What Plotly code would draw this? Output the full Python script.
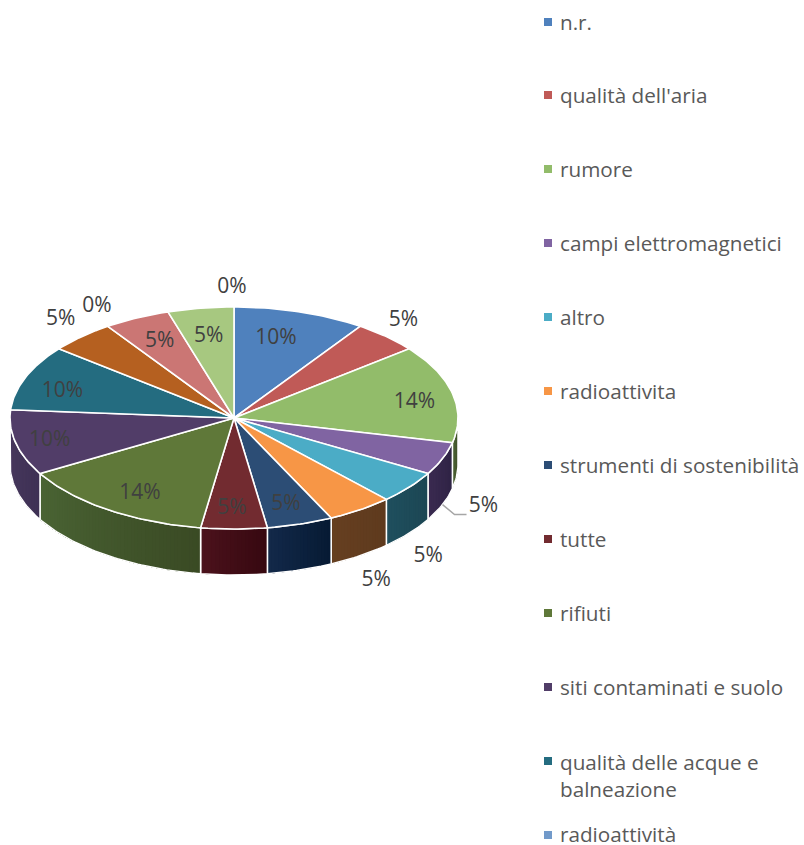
import math
import plotly.graph_objects as go

# ---------- data ----------
categories = ["n.r.", "qualità dell'aria", "rumore", "campi elettromagnetici", "altro",
              "radioattivita", "strumenti di sostenibilità", "tutte", "rifiuti",
              "siti contaminati e suolo", "qualità delle acque e<br>balneazione", "",
              "radioattività", "", "", ""]
counts = [2, 1, 3, 1, 1, 1, 1, 1, 3, 2, 2, 1, 0, 1, 1, 0]

# ---------- styles ----------
top_colors = ["#4F81BD", "#C05A57", "#92BC6A", "#8064A2", "#4BACC6", "#F79646", "#2C4D75", "#722B30",
              "#5F7839", "#513D68", "#246C80", "#B56020", "#729ACA", "#CB7674", "#A7C880", "#D0D0D0"]
side_left = ["#000000", "#000000", "#4C6234", "#3A2A50", "#1F4F5E", "#663F20", "#13294A", "#4C121C",
             "#4A6434", "#4A3A60", "#000000", "#000000", "#000000", "#000000", "#000000", "#000000"]
side_right = ["#000000", "#000000", "#3C4A26", "#2E2344", "#1C4653", "#5E3A1E", "#061A33", "#360810",
              "#3A4A24", "#3E3154", "#000000", "#000000", "#000000", "#000000", "#000000", "#000000"]
label_dx = [-24, 17, -38, 41, 19, 16, -14, -2, 32, 34, 37, -21, -11, 23, 8, -2]
label_dy = [27, -16, 9, 48, 70, 71, -19, -20, -16, -2, 14, -17, -20, 24, 29, -19]

CX, CY, RX, RY, DEPTH = 234, 418, 224, 111, 46
LEG_SQ_X, LEG_TX_X = 548, 558
leg_y = [22, 95, 169, 243, 317, 391, 465, 539, 613, 687, 761, 834]
TEXT = "#404040"
LEG_TEXT = "#595959"
FONT = "Open Sans"


def pt(a, depth=0.0):
    r = math.radians(a)
    return CX + RX * math.sin(r), CY - RY * math.cos(r) + depth


def arc(a0, a1):
    n = max(2, int(abs(a1 - a0)) + 1)
    return [a0 + (a1 - a0) * i / n for i in range(n + 1)]


def mix(c1, c2, t):
    a = [int(c1[i:i + 2], 16) for i in (1, 3, 5)]
    b = [int(c2[i:i + 2], 16) for i in (1, 3, 5)]
    return "rgb(%d,%d,%d)" % tuple(round(p + (q - p) * t) for p, q in zip(a, b))


def wall(angles):
    xs = [pt(a)[0] for a in angles] + [pt(a, DEPTH)[0] for a in reversed(angles)]
    ys = [pt(a)[1] for a in angles] + [pt(a, DEPTH)[1] for a in reversed(angles)]
    return xs + xs[:1], ys + ys[:1]


total = sum(counts)
fig = go.Figure()
starts, cum = [], 0
for v in counts:
    starts.append(cum / total * 360)
    cum += v
ends = [s + v / total * 360 for s, v in zip(starts, counts)]
mids = [(s + e) / 2 for s, e in zip(starts, ends)]

# side wall: visible from 90 to 270 degrees, painted as overlapping gradient bands
for i in range(len(counts)):
    a0, a1 = max(starts[i], 90), min(ends[i], 270)
    if a1 <= a0:
        continue
    angles = arc(a0, a1)
    m = len(angles) - 1
    for k in range(m):
        col = mix(side_right[i], side_left[i], (k + 0.5) / m)
        xs, ys = wall(angles[k:])
        fig.add_trace(go.Scatter(x=xs, y=ys, mode="lines", fill="toself", fillcolor=col,
                                 line=dict(width=0), hoverinfo="skip", showlegend=False))
    xs, ys = wall(angles)
    fig.add_trace(go.Scatter(x=xs, y=ys, mode="lines",
                             line=dict(color="white", width=1.5), hoverinfo="skip", showlegend=False))

# top face
for i, v in enumerate(counts):
    if v == 0:
        continue
    angles = arc(starts[i], ends[i])
    xs = [CX] + [pt(a)[0] for a in angles] + [CX]
    ys = [CY] + [pt(a)[1] for a in angles] + [CY]
    fig.add_trace(go.Scatter(x=xs, y=ys, mode="lines", fill="toself", fillcolor=top_colors[i],
                             line=dict(color="white", width=1.6), hoverinfo="skip", showlegend=False))

# data labels
lx = [pt(m)[0] + dx for m, dx in zip(mids, label_dx)]
ly = [pt(m)[1] + dy for m, dy in zip(mids, label_dy)]
ltext = [f"{round(v / total * 100)}%" for v in counts]
fig.add_trace(go.Scatter(x=lx, y=ly, mode="text", text=ltext,
                         textfont=dict(family=FONT, size=21, color=TEXT),
                         textposition="middle center", hoverinfo="skip", showlegend=False))

# leader line of the label on the purple slice
rim = pt(mids[3], DEPTH)
fig.add_trace(go.Scatter(x=[rim[0], lx[3] - 29, lx[3] - 17], y=[rim[1], ly[3] + 8, ly[3] + 8],
                         mode="lines", line=dict(color="#A6A6A6", width=1.5),
                         hoverinfo="skip", showlegend=False))

# legend
leg_idx = [i for i, c in enumerate(categories) if c]
fig.add_trace(go.Scatter(x=[LEG_SQ_X] * len(leg_idx), y=[y + (1 if y == leg_y[-1] else 0) for y in leg_y], mode="markers",
                         marker=dict(symbol="square", size=8, color=[top_colors[i] for i in leg_idx]),
                         hoverinfo="skip", showlegend=False))
for i, y in zip(leg_idx, leg_y):
    two = "<br>" in categories[i]
    fig.add_annotation(x=LEG_TX_X, y=y, text=categories[i], showarrow=False, xanchor="left",
                       yanchor="top" if two else "middle", yshift=15 if two else 0, align="left",
                       font=dict(family=FONT, size=20.7, color=LEG_TEXT), xref="x", yref="y")

fig.update_layout(width=804, height=845, margin=dict(l=0, r=0, t=0, b=0),
                  paper_bgcolor="white", plot_bgcolor="white", showlegend=False,
                  xaxis=dict(range=[0, 804], visible=False, fixedrange=True),
                  yaxis=dict(range=[845, 0], visible=False, fixedrange=True))
fig.write_html("out.html", config={"displayModeBar": False},
               post_script="document.body.style.margin='0';document.body.style.overflow='hidden';")
